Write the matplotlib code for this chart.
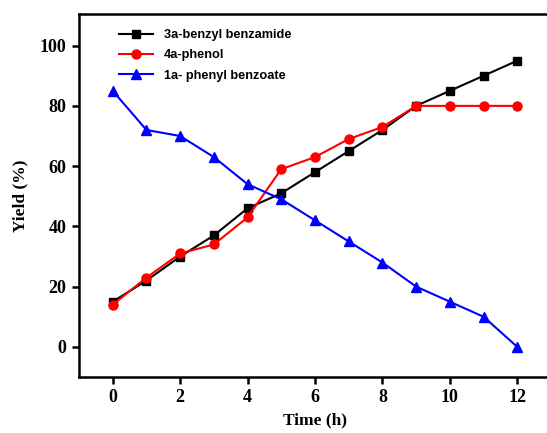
import matplotlib.pyplot as plt
import numpy as np

time_h = [0, 1, 2, 3, 4, 5, 6, 7, 8, 9, 10, 11, 12]
benzamide = [15, 22, 30, 37, 46, 51, 58, 65, 72, 80, 85, 90, 95]
phenol = [14, 23, 31, 34, 43, 59, 63, 69, 73, 80, 80, 80, 80]
phenyl_benzoate = [85, 72, 70, 63, 54, 49, 42, 35, 28, 20, 15, 10, 0]

series_labels = ['3a-benzyl benzamide', '4a-phenol', '1a- phenyl benzoate']

serif = ['Liberation Serif', 'DejaVu Serif']
sans = ['Liberation Sans', 'DejaVu Sans']

fig = plt.figure(figsize=(5.47, 4.33), dpi=100)
ax = fig.add_axes([79 / 547, 1 - 377 / 433, 472 / 547, 363 / 433])

ax.plot(time_h, benzamide, color='black', marker='s', markersize=6, linewidth=1.5, label=series_labels[0])
ax.plot(time_h, phenol, color='red', marker='o', markersize=6.5, linewidth=1.5, label=series_labels[1])
ax.plot(time_h, phenyl_benzoate, color='blue', marker='^', markersize=7, linewidth=1.5, label=series_labels[2])

ax.set_xlim(-1, 13)
ax.set_ylim(-10, 110.5)
ax.set_xticks(np.arange(0, 13, 2))
ax.set_yticks(np.arange(0, 101, 20))

for s in ax.spines.values():
    s.set_linewidth(1.8)
ax.tick_params(direction='out', length=5, width=1.8, pad=4)
for lbl in ax.get_xticklabels() + ax.get_yticklabels():
    lbl.set_fontfamily(serif)
    lbl.set_fontweight('bold')
    lbl.set_fontsize(13)

ax.set_xlabel('Time (h)', fontsize=12.5, fontweight='bold', family=serif, labelpad=4)
ax.set_ylabel('Yield (%)', fontsize=12.5, fontweight='bold', family=serif, labelpad=8)

leg = ax.legend(loc='upper left', bbox_to_anchor=(0.06, 0.99), frameon=False,
                prop={'family': sans, 'weight': 'bold', 'size': 9.2},
                handlelength=2.7, handletextpad=0.8, labelspacing=0.65)

fig.savefig('out.png', dpi=100, facecolor='white')
